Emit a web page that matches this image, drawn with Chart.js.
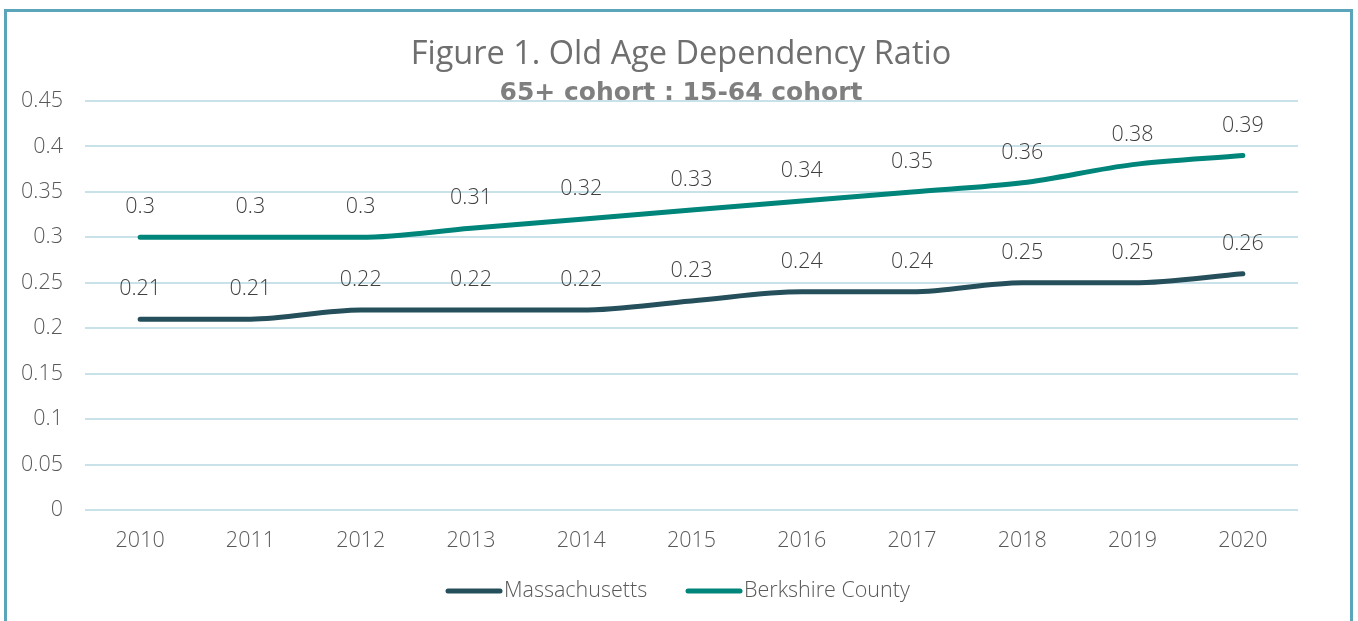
<!DOCTYPE html>
<html>
<head>
<meta charset="utf-8">
<script src="https://cdn.jsdelivr.net/npm/chart.js@4"></script>
<style>
  html, body { margin: 0; padding: 0; background: #fff; overflow: hidden; }
  #wrap { position: relative; width: 1358px; height: 621px; }
  #frame { position: absolute; left: 4px; top: 9px; width: 1349px; height: 640px;
           border: 3px solid #5ba5ba; border-bottom: none; box-sizing: border-box; pointer-events: none; }
  canvas { position: absolute; left: 0; top: 0; }
</style>
</head>
<body>
<div id="wrap">
  <canvas id="ratioChart" width="1358" height="621"></canvas>
  <div id="frame"></div>
</div>
<script>
const years = ['2010', '2011', '2012', '2013', '2014', '2015', '2016', '2017', '2018', '2019', '2020'];
const massachusetts = [0.21, 0.21, 0.22, 0.22, 0.22, 0.23, 0.24, 0.24, 0.25, 0.25, 0.26];
const berkshire = [0.30, 0.30, 0.30, 0.31, 0.32, 0.33, 0.34, 0.35, 0.36, 0.38, 0.39];
const seriesNames = ['Massachusetts', 'Berkshire County'];
const titleText = 'Figure 1. Old Age Dependency Ratio';
const subtitleText = '65+ cohort : 15-64 cohort';

const FONT = "'Open Sans', 'DejaVu Sans', sans-serif";
const TXT = 21.5;

// point labels, title and legend, drawn on the canvas
const extras = {
    id: 'extras',
    afterDatasetsDraw(chart) {
        const ctx = chart.ctx;
        ctx.save();
        ctx.font = '300 ' + TXT + 'px ' + FONT;
        ctx.fillStyle = '#404040';
        ctx.textAlign = 'center';
        ctx.textBaseline = 'middle';
        chart.data.datasets.forEach((ds, i) => {
            chart.getDatasetMeta(i).data.forEach((pt, j) => {
                ctx.fillText(String(ds.data[j]), pt.x, pt.y - 30);
            });
        });
        ctx.restore();
    },
    afterDraw(chart) {
        const ctx = chart.ctx;
        ctx.save();
        ctx.textAlign = 'center';
        ctx.textBaseline = 'middle';
        ctx.fillStyle = '#6f6f6f';
        ctx.font = '400 32.5px ' + FONT;
        ctx.fillText(titleText, 681, 55);
        ctx.fillStyle = '#7f7f7f';
        ctx.font = "700 25px 'DejaVu Sans', sans-serif";
        ctx.fillText(subtitleText, 681, 93);

        // legend
        ctx.font = '300 ' + TXT + 'px ' + FONT;
        ctx.textAlign = 'left';
        const items = [
            { x: 448, color: chart.data.datasets[0].borderColor, text: chart.data.datasets[0].label },
            { x: 688, color: chart.data.datasets[1].borderColor, text: chart.data.datasets[1].label }
        ];
        items.forEach(it => {
            ctx.strokeStyle = it.color;
            ctx.lineWidth = 5;
            ctx.lineCap = 'round';
            ctx.beginPath();
            ctx.moveTo(it.x, 591);
            ctx.lineTo(it.x + 52, 591);
            ctx.stroke();
            ctx.fillStyle = '#595959';
            ctx.fillText(it.text, it.x + 56, 591);
        });
        ctx.restore();
    }
};

new Chart(document.getElementById('ratioChart'), {
    type: 'line',
    data: {
        labels: years,
        datasets: [{
            label: seriesNames[0],
            data: massachusetts,
            borderColor: '#264f5c',
            borderWidth: 5,
            borderCapStyle: 'round',
            pointRadius: 0,
            cubicInterpolationMode: 'monotone',
            fill: false
        },
        {
            label: seriesNames[1],
            data: berkshire,
            borderColor: '#00857a',
            borderWidth: 5,
            borderCapStyle: 'round',
            pointRadius: 0,
            cubicInterpolationMode: 'monotone',
            fill: false
        }]
    },
    plugins: [extras],
    options: {
        responsive: false,
        animation: false,
        layout: { padding: { top: 101, right: 60, left: 0, bottom: 0 } },
        plugins: {
            legend: { display: false },
            title: { display: false },
            tooltip: { enabled: false }
        },
        scales: {
            x: {
                offset: true,
                grid: { display: false },
                border: { display: false },
                ticks: { color: '#595959', font: { family: FONT, size: TXT, weight: '300' }, padding: 10, maxRotation: 0 },
                afterFit(scale) { scale.height = 111; }
            },
            y: {
                min: 0,
                max: 0.45,
                ticks: {
                    stepSize: 0.05,
                    color: '#595959',
                    font: { family: FONT, size: TXT, weight: '300' },
                    padding: 22,
                    callback: v => String(Math.round(v * 100) / 100)
                },
                grid: { color: '#c9e2ea', lineWidth: 2, drawTicks: false },
                border: { display: false },
                afterFit(scale) { scale.width = 85; }
            }
        }
    }
});
</script>
</body>
</html>
